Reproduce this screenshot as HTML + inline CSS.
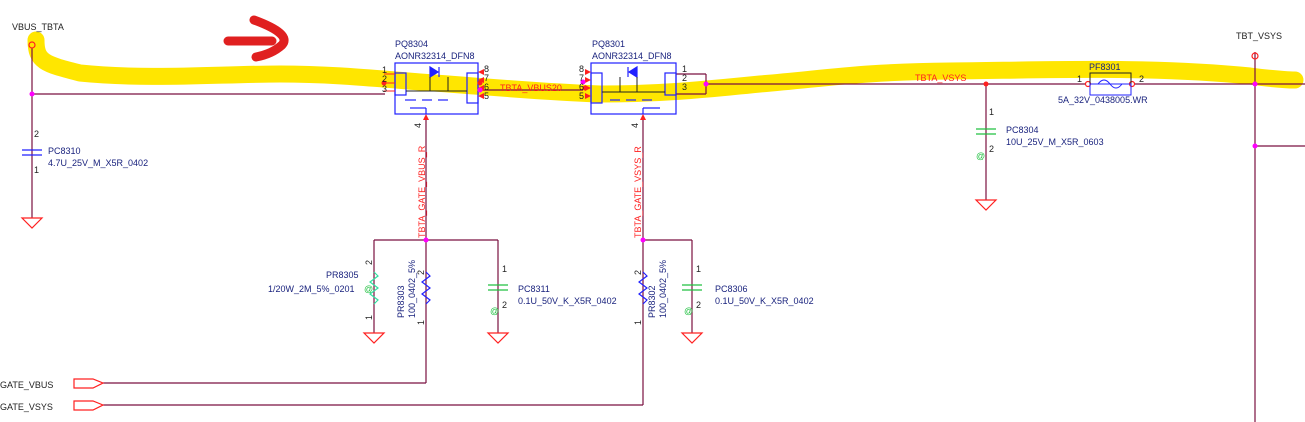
<!DOCTYPE html>
<html><head><meta charset="utf-8"><style>
html,body{margin:0;padding:0;background:#fff;}
svg{display:block;}
text{font-family:"Liberation Sans",sans-serif;font-size:9px;}
.b{fill:#1a237e}.k{fill:#222}.r{fill:#ff2020}
</style></head><body>
<svg width="1305" height="422" viewBox="0 0 1305 422" xmlns="http://www.w3.org/2000/svg">
<!-- yellow highlight -->
<path d="M36,40 C36,62 45,64 80,73 C150,80 220,74 280,74 C330,74 370,78 420,82 C480,86 540,92 600,94 C660,94 700,90 760,84 C830,78 860,72 950,71 C1050,70 1150,66 1250,76 C1280,80 1295,80 1295,80" fill="none" stroke="#ffe600" stroke-width="17" stroke-linecap="round"/>
<!-- red arrow -->
<path d="M228,41 L272,41 M254,20 Q292,34 282,45 Q272,54 256,57" fill="none" stroke="#e02020" stroke-width="9" stroke-linecap="round" stroke-linejoin="round"/>
<g stroke="#7a1040" stroke-width="1.2" fill="none">
<line x1="32" y1="48" x2="32" y2="218"/>
<line x1="32" y1="94" x2="385" y2="94"/>
<line x1="480" y1="90" x2="583" y2="90"/>
<line x1="706" y1="84" x2="1085" y2="84"/>
<line x1="1135" y1="84" x2="1305" y2="84"/>
<line x1="1255" y1="52" x2="1255" y2="422"/>
<line x1="1255" y1="146" x2="1305" y2="146"/>
<line x1="986" y1="84" x2="986" y2="200"/>
<line x1="426" y1="118" x2="426" y2="383"/>
<line x1="643" y1="118" x2="643" y2="405"/>
<line x1="374" y1="240" x2="498" y2="240"/>
<line x1="374" y1="240" x2="374" y2="333"/>
<line x1="498" y1="240" x2="498" y2="333"/>
<line x1="643" y1="240" x2="692" y2="240"/>
<line x1="692" y1="240" x2="692" y2="333"/>
<line x1="103" y1="383" x2="426" y2="383"/>
<line x1="103" y1="405" x2="643" y2="405"/>
<line x1="676" y1="74" x2="706" y2="74"/><line x1="706" y1="74" x2="706" y2="94"/><line x1="676" y1="94" x2="706" y2="94"/>
</g>
<g stroke="#2020ff" stroke-width="1.2"><line x1="22" y1="150" x2="42" y2="150"/><line x1="22" y1="155" x2="42" y2="155"/></g>
<g stroke="#20c040" stroke-width="1.2">
<line x1="488" y1="285" x2="508" y2="285"/><line x1="488" y1="290" x2="508" y2="290"/>
<line x1="682" y1="285" x2="702" y2="285"/><line x1="682" y1="290" x2="702" y2="290"/>
<line x1="976" y1="129" x2="996" y2="129"/><line x1="976" y1="134" x2="996" y2="134"/>
</g>
<polyline points="374,272 378,276 370,282 378,288 370,294 378,300 374,304" fill="none" stroke="#30e0a0" stroke-width="1.2"/>
<polyline points="426,272 430,276 422,282 430,288 422,294 430,300 426,304" fill="none" stroke="#2020ff" stroke-width="1.2"/>
<polyline points="643,272 647,276 639,282 647,288 639,294 647,300 643,304" fill="none" stroke="#2020ff" stroke-width="1.2"/>
<g fill="none" stroke="#ff2020" stroke-width="1.2">
<polygon points="22,218 42,218 32,228"/>
<polygon points="364,333 384,333 374,343"/>
<polygon points="488,333 508,333 498,343"/>
<polygon points="682,333 702,333 692,343"/>
<polygon points="976,200 996,200 986,210"/>
<circle cx="32" cy="45" r="3"/><circle cx="1255" cy="56" r="3"/>
<circle cx="1088" cy="84" r="2.5"/><circle cx="1132" cy="84" r="2.5"/>
<polygon points="74,379 93,379 103,383 93,388 74,388"/>
<polygon points="74,401 93,401 103,405 93,410 74,410"/>
</g>
<rect x="1090" y="73" width="41" height="22" fill="none" stroke="#222" stroke-width="1"/>
<rect x="1090" y="84" width="41" height="11" fill="none" stroke="#2020ff" stroke-width="1"/>
<path d="M1098,84 Q1104,76 1110,84 Q1116,92 1122,84" fill="none" stroke="#2020ff"/>
<g fill="none" stroke="#2020ff" stroke-width="1.2">
<rect x="395" y="63" width="83" height="51"/>
<rect x="395" y="73" width="11" height="22"/>
<rect x="467" y="73" width="11" height="30"/>
<rect x="591" y="63" width="85" height="51"/>
<rect x="591" y="73" width="11" height="30"/>
<rect x="665" y="73" width="11" height="22"/>
<polygon points="430,67 430,77 438,72" fill="#2020ff"/><line x1="439" y1="67" x2="439" y2="77"/>
<polygon points="637,67 637,77 629,72" fill="#2020ff"/><line x1="628" y1="67" x2="628" y2="77"/>
<line x1="405" y1="100" x2="416" y2="100"/><line x1="422" y1="100" x2="432" y2="100"/><line x1="438" y1="100" x2="448" y2="100"/>
<line x1="610" y1="100" x2="620" y2="100"/><line x1="626" y1="100" x2="636" y2="100"/><line x1="642" y1="100" x2="652" y2="100"/>
<line x1="410" y1="108" x2="426" y2="108"/><line x1="426" y1="108" x2="426" y2="114"/>
<line x1="643" y1="108" x2="660" y2="108"/><line x1="643" y1="108" x2="643" y2="114"/>
</g>
<g stroke="#222" stroke-width="1" fill="none">
<line x1="406" y1="91" x2="467" y2="91"/><line x1="602" y1="92" x2="665" y2="92"/>
<line x1="430" y1="77" x2="430" y2="91"/><line x1="448" y1="77" x2="448" y2="91"/>
<line x1="620" y1="77" x2="620" y2="92"/><line x1="637" y1="77" x2="637" y2="92"/>
</g>
<g stroke="#ff2020" stroke-width="1">
<line x1="384" y1="74" x2="395" y2="74"/><line x1="384" y1="83" x2="395" y2="83"/><line x1="384" y1="91" x2="395" y2="91"/>
</g>
<g fill="#ff2020">
<polygon points="478,72 484,69 484,75"/><polygon points="478,80 484,77 484,83"/><polygon points="478,88 484,85 484,91"/><polygon points="478,96 484,93 484,99"/>
<polygon points="591,72 585,69 585,75"/><polygon points="591,80 585,77 585,83"/><polygon points="591,88 585,85 585,91"/><polygon points="591,96 585,93 585,99"/>
<polygon points="426,114 423,120 429,120"/><polygon points="643,114 640,120 646,120"/>
<circle cx="384" cy="83" r="2.5"/><circle cx="480" cy="83" r="2.5"/><circle cx="585" cy="88" r="2.5"/>
<circle cx="986" cy="84" r="2.5"/>
</g>
<g fill="#ff00ff">
<circle cx="32" cy="94" r="2.5"/><circle cx="426" cy="240" r="2.5"/><circle cx="643" cy="240" r="2.5"/>
<circle cx="480" cy="90" r="2.5"/><circle cx="583" cy="82" r="2.5"/><circle cx="706" cy="84" r="2.5"/>
<circle cx="1255" cy="84" r="2.5"/><circle cx="1255" cy="146" r="2.5"/>
</g>
<text x="12" y="30" class="k">VBUS_TBTA</text>
<text x="1236" y="39" class="k">TBT_VSYS</text>
<text x="395" y="47" class="b">PQ8304</text>
<text x="395" y="59" class="b">AONR32314_DFN8</text>
<text x="592" y="47" class="b">PQ8301</text>
<text x="592" y="59" class="b">AONR32314_DFN8</text>
<text x="500" y="91" class="r">TBTA_VBUS20</text>
<text x="915" y="81" class="r">TBTA_VSYS</text>
<text x="1089" y="70" class="b">PF8301</text>
<text x="1058" y="103" class="b">5A_32V_0438005.WR</text>
<text x="1077" y="82" class="k">1</text><text x="1139" y="82" class="k">2</text>
<text x="48" y="154" class="b">PC8310</text>
<text x="48" y="166" class="b">4.7U_25V_M_X5R_0402</text>
<text x="34" y="137" class="k">2</text><text x="34" y="173" class="k">1</text>
<text x="1006" y="133" class="b">PC8304</text>
<text x="1006" y="145" class="b">10U_25V_M_X5R_0603</text>
<text x="989" y="115" class="k">1</text><text x="989" y="152" class="k">2</text>
<text x="518" y="292" class="b">PC8311</text>
<text x="518" y="304" class="b">0.1U_50V_K_X5R_0402</text>
<text x="502" y="272" class="k">1</text><text x="502" y="308" class="k">2</text>
<text x="715" y="292" class="b">PC8306</text>
<text x="715" y="304" class="b">0.1U_50V_K_X5R_0402</text>
<text x="696" y="272" class="k">1</text><text x="696" y="308" class="k">2</text>
<text x="326" y="278" class="b">PR8305</text>
<text x="268" y="292" class="b">1/20W_2M_5%_0201</text>
<text x="0" y="388" class="k">GATE_VBUS</text>
<text x="0" y="410" class="k">GATE_VSYS</text>
<text x="382" y="73" class="k">1</text><text x="382" y="82" class="k">2</text><text x="382" y="92" class="k">3</text>
<text x="484" y="72" class="k">8</text><text x="484" y="81" class="k">7</text><text x="484" y="90" class="k">6</text><text x="484" y="99" class="k">5</text>
<text x="579" y="72" class="k">8</text><text x="579" y="81" class="k">7</text><text x="579" y="90" class="k">6</text><text x="579" y="99" class="k">5</text>
<text x="682" y="72" class="k">1</text><text x="682" y="81" class="k">2</text><text x="682" y="90" class="k">3</text>
<text transform="translate(425,238) rotate(-90)" class="r">TBTA_GATE_VBUS_R</text>
<text transform="translate(641,238) rotate(-90)" class="r">TBTA_GATE_VSYS_R</text>
<text transform="translate(421,128) rotate(-90)" class="k">4</text>
<text transform="translate(638,128) rotate(-90)" class="k">4</text>
<text transform="translate(372,265) rotate(-90)" class="k">2</text>
<text transform="translate(372,320) rotate(-90)" class="k">1</text>
<text transform="translate(424,275) rotate(-90)" class="k">2</text>
<text transform="translate(424,325) rotate(-90)" class="k">1</text>
<text transform="translate(641,275) rotate(-90)" class="k">2</text>
<text transform="translate(641,325) rotate(-90)" class="k">1</text>
<text transform="translate(404,318) rotate(-90)" class="b">PR8303</text>
<text transform="translate(415,318) rotate(-90)" class="b">100_0402_5%</text>
<text transform="translate(655,318) rotate(-90)" class="b">PR8302</text>
<text transform="translate(666,318) rotate(-90)" class="b">100_0402_5%</text>
<g fill="#20c040" font-size="9"><text x="364" y="292">@</text><text x="976" y="159">@</text><text x="490" y="314">@</text><text x="684" y="314">@</text></g>
</svg>
</body></html>
